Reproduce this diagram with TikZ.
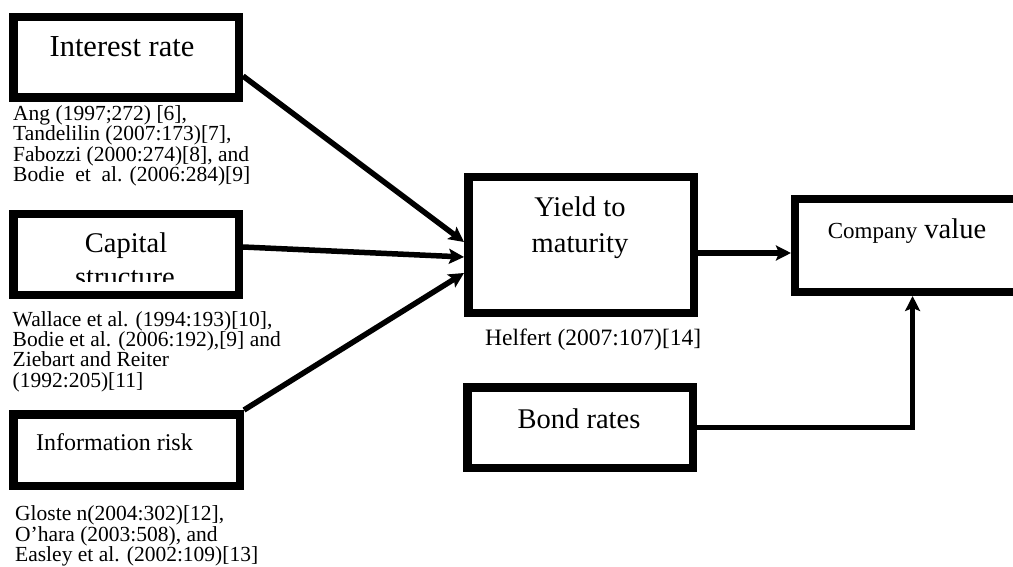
\documentclass[tikz,border=0pt]{standalone}
\usepackage{fontspec}
\setmainfont{Liberation Serif}
\usetikzlibrary{arrows.meta,calc}

\tikzset{
  box/.style={draw=black, line width=8.5pt, fill=white, inner sep=0pt,
              minimum width=225.5pt, minimum height=80.5pt},
  boxtext/.style={inner sep=0pt, anchor=base, font=\fontsize{28.5}{35}\selectfont, align=center},
  note/.style={inner sep=0pt, anchor=base west, align=left,
               font=\fontsize{21.5}{20.3}\selectfont},
  link/.style={line width=5.5pt, -{Stealth[length=15pt, width=15pt, inset=3pt]}},
}

\begin{document}
\begin{tikzpicture}[x=1pt, y=-1pt]
\useasboundingbox (0,0) rectangle (1013,567);
\fill[white] (0,0) rectangle (1013,567);
\clip (0,0) rectangle (1013,567);

% boxes
\node[box] (ir)   at (126,57.5) {};
\node[box] (cs)   at (126,254.5) {};
\node[box, minimum width=226.5pt, minimum height=71.5pt] (inf) at (126.5,450) {};
\node[box, minimum height=135.5pt] (ym) at (581,245) {};
\node[box] (br)   at (580,427.5) {};
\node[box, minimum width=234.75pt, minimum height=92.5pt] (cv) at (912.6,245.5) {};

% box texts
\node[boxtext, font=\fontsize{30.5}{35}\selectfont] (irt) at (122,57) {Interest rate};
\node[boxtext] (cst1) at (126,252) {Capital};
\begin{scope}
  \clip (15,215) rectangle (237,281.5);
  \node[boxtext] (cst2) at (125,287) {structure};
\end{scope}
\node[boxtext, font=\fontsize{24}{30}\selectfont] (inft) at (114.5,450) {Information risk};
\node[boxtext] (ymt1) at (580,217) {Yield to};
\node[boxtext] (ymt2) at (580,252) {maturity};
\node[boxtext] (brt) at (579,428) {Bond rates};
\node[boxtext] (cvt) at (907,238) {{\fontsize{23}{28}\selectfont Company} value};

% references (anchored at the baseline of their last line)
\node[note] (n1) at (13,181.5) {Ang (1997;272) [6],\\Tandelilin (2007:173)[7],\\Fabozzi (2000:274)[8], and\\Bodie\ \ et\ \ al. (2006:284)[9]};
\node[note] (n2) at (12.5,387) {Wallace et al. (1994:193)[10],\\Bodie et al. (2006:192),[9] and\\Ziebart and Reiter\\(1992:205)[11]};
\node[note] (n3) at (15,561.5) {Gloste n(2004:302)[12],\\O’hara (2003:508), and\\Easley et al. (2002:109)[13]};
\node[note, font=\fontsize{23.5}{25}\selectfont] (n4) at (485,345) {Helfert (2007:107)[14]};

% connectors
\draw[link] ([yshift=-18.5pt]ir.east) -- ([yshift=3pt]ym.west);
\draw[link] ([yshift=7.5pt]cs.east) -- ([yshift=-12pt]ym.west);
\draw[link] (inf.north east) -- ([yshift=-28pt]ym.west);
\draw[link] ([yshift=-8pt]ym.east) -- ([yshift=-7.5pt]cv.west);
\draw[link] (br.east) -| (cv.south);
\end{tikzpicture}
\end{document}
